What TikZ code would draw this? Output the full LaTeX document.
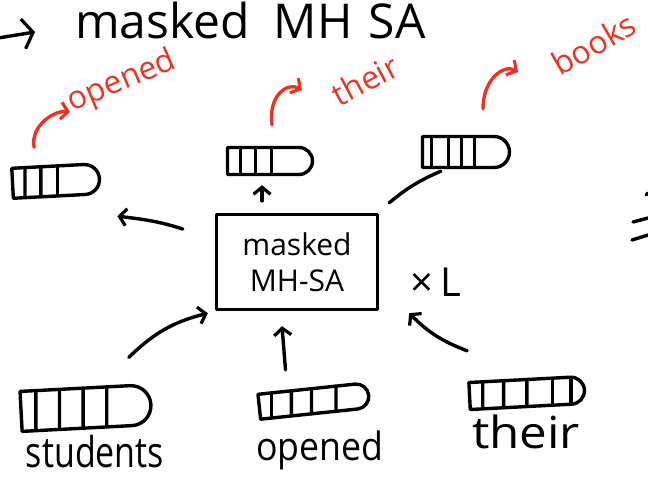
\documentclass[tikz,border=0pt]{standalone}
\usepackage{fontspec}
\setmainfont{Open Sans}
\usetikzlibrary{arrows.meta,calc,shapes.misc}
\definecolor{ink}{RGB}{0,0,0}
\definecolor{redink}{RGB}{236,52,36}
\tikzset{
  stroke/.style={line width=3.4pt, line cap=round, line join=round, draw=ink},
  arr/.style={stroke, -{Straight Barb[length=7pt,width=17pt,line width=3.2pt]}},
  redarr/.style={arr, draw=redink},
  divs/.store in=\divlist, divs={0.15,0.33,0.52},
  vecbox/.style={stroke, rounded rectangle, rounded rectangle west arc=none,
    inner sep=0pt, minimum width=#1, minimum height=28pt,
    path picture={\foreach \f in \divlist {\draw[stroke]
      ($(path picture bounding box.south west)!\f!(path picture bounding box.south east)$) --
      ($(path picture bounding box.north west)!\f!(path picture bounding box.north east)$);}}},
  word/.style={font=\fontsize{34}{38}\selectfont, text=ink, inner sep=0pt},
  redword/.style={font=\fontsize{32}{36}\selectfont, text=redink, inner sep=0pt},
  mhsa/.style={stroke, rectangle, minimum width=161pt, minimum height=95pt, align=center,
    font=\fontsize{30}{36}\selectfont, inner sep=0pt},
}
\begin{document}
\begin{tikzpicture}[x=1pt,y=-1pt]
\useasboundingbox (0,0) rectangle (648,485);
\clip (0,0) rectangle (648,485);
% title
\node[anchor=base west, font=\fontsize{48}{52}\selectfont, inner sep=0pt] (title) at (75,38) {masked\hspace{24pt}MH\hspace{16pt}SA};
\coordinate (tstart) at (-2,38);
\draw[stroke, -{Straight Barb[length=10pt,width=30pt,line width=3.2pt]}] (tstart) -- ([shift={(-40,-6)}]title.base west);

% central block
\node[mhsa] (box) at (297,262) {masked\\MH-SA};
\node[font=\fontsize{40}{44}\selectfont, inner sep=0pt] (times) at (436,282) {×\,L};

% output vectors
\node[vecbox=87pt, minimum height=30pt, rotate=3] (v1) at (56,181) {};
\node[vecbox=85pt, minimum height=27pt] (v2) at (270,161) {};
\node[vecbox=87pt, minimum height=31pt, divs={0.1,0.3,0.45,0.6}] (v3) at (466,152) {};

% input vectors
\node[vecbox=130pt, minimum height=40pt, rotate=3, divs={0.12,0.3,0.48,0.66}] (v4) at (86,408) {};
\node[vecbox=110pt, minimum height=25pt, rotate=6, divs={0.12,0.3,0.48,0.7}] (v5) at (314,401) {};
\node[vecbox=115pt, minimum height=27pt, rotate=3, divs={0.12,0.3,0.5,0.72,0.88}] (v6) at (527,393) {};

% input words
\node[word, yscale=1.25] (w4) at (95,452) {students};
\node[word, xscale=1.05, yscale=1.15] (w5) at (320,450) {opened};
\node[word, xscale=1.45, yscale=1.3] (w6) at (526,432) {their};

% predicted words (red)
\node[redword, rotate=23] (r1) at (122,82) {opened};
\node[redword, rotate=28] (r2) at (365,80) {their};
\node[redword, rotate=30] (r3) at (594,44) {books};

% connectors: inputs -> block
\draw[arr] ([shift={(44,-29)}]v4.north) to[bend left=15] ([shift={(-7,2)}]box.south west);
\draw[arr] ([shift={(-27,-17)}]v5.north) -- ([shift={(-15,15)}]box.south);
\draw[arr] ([shift={(-59,-27)}]v6.north) to[bend left=12] ([shift={(30,2)}]box.south east);

% connectors: block -> outputs
\draw[arr] ([shift={(-32,-33)}]box.west) .. controls +(-25,-8) and +(25,3) .. ([shift={(32,20)}]v1.south east);
\draw[arr] ([shift={(-35,-12)}]box.north) -- ([shift={(-8,9)}]v2.south);
\draw[stroke] ([shift={(10,-10)}]box.north east) to[bend left=8] ([shift={(20,2)}]v3.south west);

% red arrows: outputs -> predicted words
\draw[redarr] ([shift={(-21,-17)}]v1.north) .. controls +(-4,-22) and +(-15,-2) .. ([shift={(-52,30)}]r1.center);
\draw[redarr] ([shift={(2,-21)}]v2.north) .. controls +(-4,-30) and +(-14,-8) .. ([shift={(-63,10)}]r2.center);
\draw[redarr] ([shift={(17,-26)}]v3.north) .. controls +(0,-30) and +(-14,-8) .. ([shift={(-76,28)}]r3.center);

% fragment at the right edge
\draw[stroke] (633,222) -- (648,218);
\draw[stroke] (632,240) -- (648,235);
\draw[stroke] (646,195) -- (648,193);
\end{tikzpicture}
\end{document}
